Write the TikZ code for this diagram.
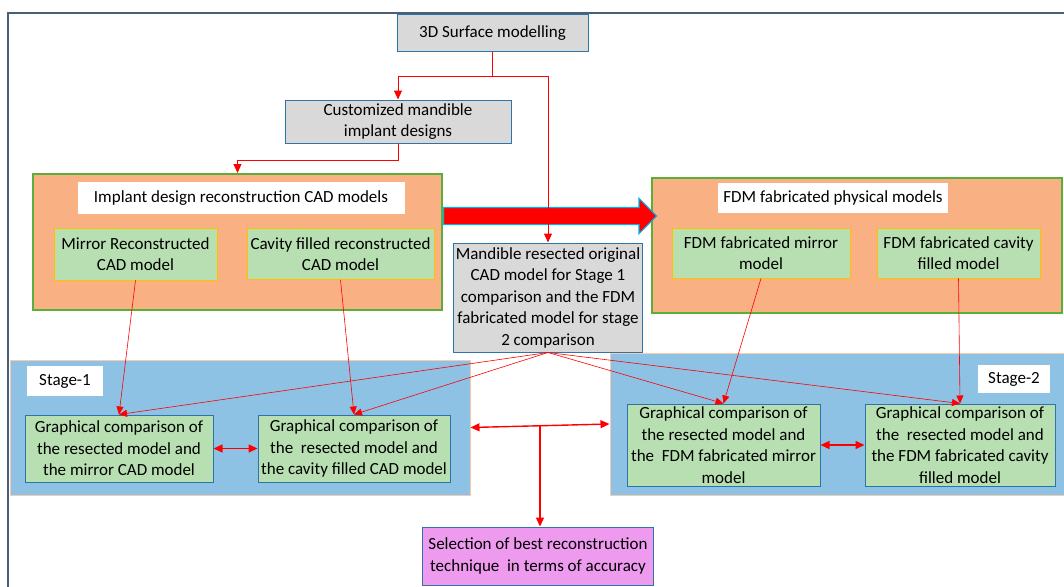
\documentclass[tikz,border=0pt]{standalone}
\usepackage{fontspec}
\setmainfont{Carlito}
\usetikzlibrary{shapes.arrows,arrows.meta,positioning,calc}

\definecolor{boxgray}{HTML}{D9D9D9}
\definecolor{boxblue}{HTML}{2E74A6}
\definecolor{peach}{HTML}{F9B183}
\definecolor{grnline}{HTML}{5AAE3A}
\definecolor{grnfill}{HTML}{B8DFB2}
\definecolor{gold}{HTML}{FFC000}
\definecolor{stageblue}{HTML}{8DC2E5}
\definecolor{stageline}{HTML}{F8CBAD}
\definecolor{selfill}{HTML}{EE9AEE}
\definecolor{framecol}{HTML}{4A6079}
\definecolor{arrline}{HTML}{00B0F0}

\begin{document}
\begin{tikzpicture}[x=1pt,y=-1pt,semithick,node distance=2cm,
	every node/.style={font=\fontsize{17}{21.5}\selectfont,align=center,inner sep=1pt},
	gbox/.style={draw=boxblue,fill=boxgray,line width=1pt},
	obox/.style={draw=grnline,fill=peach,line width=2pt},
	tbox/.style={fill=white},
	mbox/.style={draw=gold,fill=grnfill,line width=.8pt},
	cbox/.style={draw=boxblue,fill=grnfill,line width=1pt},
	sbox/.style={draw=stageline,fill=stageblue,line width=1pt},
	link/.style={red,line width=.6pt,-{Triangle[length=8pt,width=7pt]}},
	elbow/.style={red,line width=1pt,-{Triangle[length=9pt,width=8pt]}},
	both/.style={red,line width=1.4pt,{Triangle[length=9pt,width=8pt]}-{Triangle[length=9pt,width=8pt]}}]
		\useasboundingbox (0,0) rectangle (1064,586);
		\draw[framecol,line width=1.5pt] (8,600) -- (8,13) -- (1080,13);

		\node[gbox,minimum width=191pt,minimum height=37pt] (top) at (492.5,33.5) {3D Surface modelling};
		\node[gbox,minimum width=226pt,minimum height=43pt] (cust) at (398,121.5) {Customized mandible\\implant designs};

		% CAD side
		\node[obox,minimum width=409pt,minimum height=136pt] (cad) at (237.5,242) {};
		\node[tbox,minimum width=327pt,minimum height=32pt] (cadt) at (241,198) {Implant design reconstruction CAD models};
		\node[mbox,minimum width=163pt,minimum height=52pt] (mir) at (135.5,254) {Mirror Reconstructed\\CAD model};
		\node[mbox,minimum width=187pt,minimum height=51pt,right of=mir,node distance=205pt] (cav) {Cavity filled reconstructed\\CAD model};

		% FDM side
		\node[obox,minimum width=410pt,minimum height=135pt] (fdm) at (857,245.5) {};
		\node[tbox,minimum width=230pt,minimum height=30pt] (fdmt) at (833,198) {FDM fabricated physical models};
		\node[mbox,minimum width=178pt,minimum height=50pt] (fmir) at (761,253) {FDM fabricated mirror\\model};
		\node[mbox,minimum width=163pt,minimum height=50pt,right of=fmir,node distance=197.5pt] (fcav) {FDM fabricated cavity\\filled model};

		% wide arrow between the two model groups
		\node[single arrow,draw=arrline,fill=red,line width=1.2pt,minimum height=213pt,
			single arrow head extend=9pt,inner sep=8pt,anchor=tail] (big) at (cad.east |- 0,216) {};

		\node[gbox,minimum width=189pt,minimum height=109pt] (mand) at (548,297.5) {Mandible resected original\\CAD model for Stage 1\\comparison and the FDM\\fabricated model for stage\\2 comparison};

		% stage 1
		\node[sbox,minimum width=460pt,minimum height=135pt] (st1) at (240,427.5) {};
		\node[tbox,minimum width=76pt,minimum height=30pt] (st1t) at (65,381) {Stage-1};
		\node[cbox,minimum width=188pt,minimum height=67pt] (cmp1) at (119,448.5) {Graphical comparison of\\the resected model and\\the mirror CAD model};
		\node[cbox,minimum width=192pt,minimum height=67pt,right of=cmp1,node distance=235pt] (cmp2) {Graphical comparison of\\the~~resected model and\\the cavity filled CAD model};

		% stage 2
		\node[sbox,minimum width=456pt,minimum height=142pt] (st2) at (838,424) {};
		\node[tbox,minimum width=72pt,minimum height=28pt] (st2t) at (1014,379) {Stage-2};
		\node[cbox,minimum width=193pt,minimum height=82pt] (cmp3) at (723.5,445) {Graphical comparison of\\the resected model and\\the~~FDM fabricated mirror\\model};
		\node[cbox,minimum width=190pt,minimum height=82pt,right of=cmp3,node distance=236.5pt] (cmp4) {Graphical comparison of\\the~~resected model and\\the FDM fabricated cavity\\filled model};

		\node[gbox,fill=selfill,minimum width=231pt,minimum height=58pt] (sel) at (538,556) {Selection of best reconstruction\\technique~~in terms of accuracy};

		\draw[elbow] (top.south) -- ++(0,24) coordinate (j1) -| (cust.north);
		\draw[elbow] (j1) -| (mand.north);
		\draw[elbow] (cust.south) -- ++(0,17) -| (cad.north);

		\draw[link] (mir.south) -- (cmp1.north);
		\draw[link] (cav.south) -- (cmp2.north);
		\draw[link] (fmir.south) -- (cmp3.north);
		\draw[link] (fcav.south) -- (cmp4.north);
		\foreach \c in {cmp1,cmp2,cmp3,cmp4}
			\draw[link] (mand.south) -- (\c.north);

		\draw[both] (cmp1) -- (cmp2);
		\draw[both] (cmp3) -- (cmp4);
		\draw[both] (st1.east) -- coordinate (mid) (st2.west);
		\draw[elbow,line width=1.4pt] (mid) -- (mid |- sel.north);
	\end{tikzpicture}
\end{document}
